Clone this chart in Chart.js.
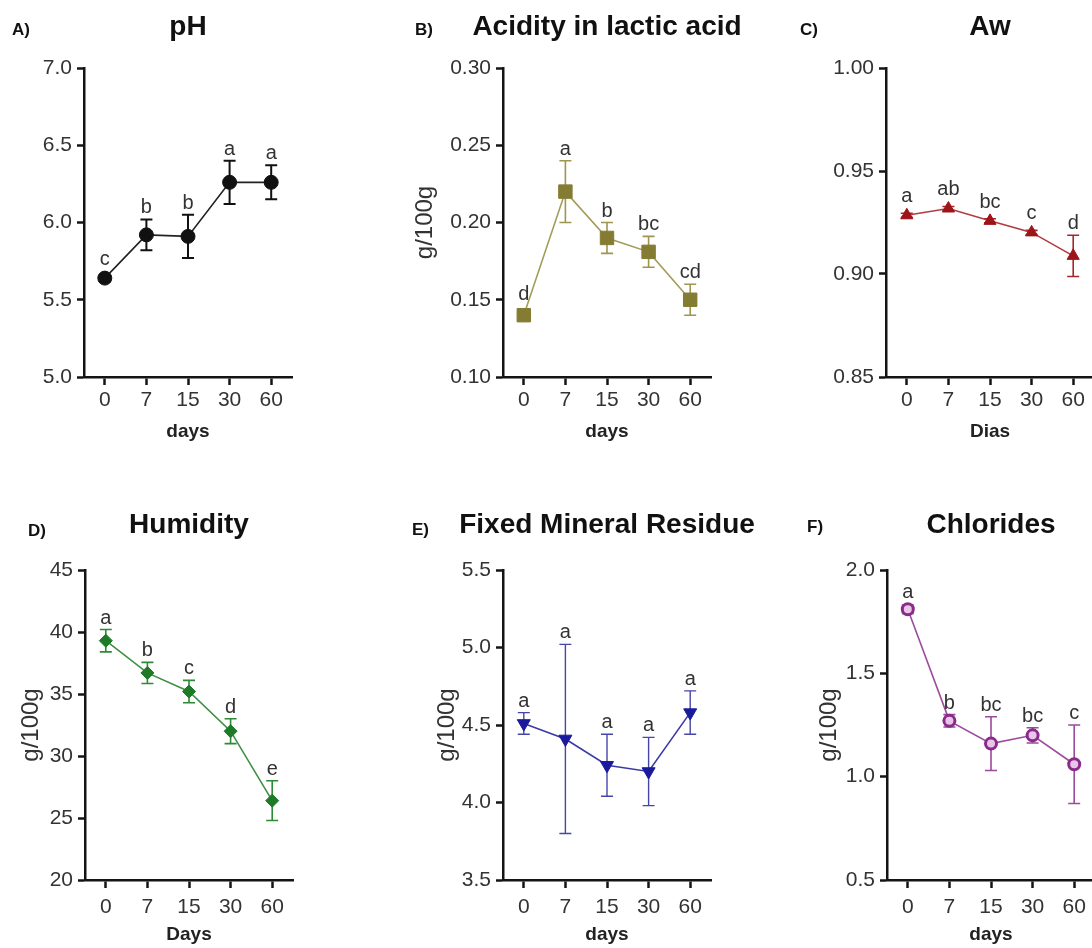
<!DOCTYPE html>
<html>
<head>
<meta charset="utf-8">
<title>Physicochemical parameters during ripening</title>
<script src="https://cdn.jsdelivr.net/npm/chart.js@4.4.1/dist/chart.umd.min.js"></script>
<style>
  html, body { margin: 0; padding: 0; background: #fff; }
  #fig { position: relative; width: 1092px; height: 948px; overflow: hidden; }
  #fig canvas { position: absolute; }
</style>
</head>
<body>
<div id="fig">
  <canvas id="chartA"></canvas>
  <canvas id="chartB"></canvas>
  <canvas id="chartC"></canvas>
  <canvas id="chartD"></canvas>
  <canvas id="chartE"></canvas>
  <canvas id="chartF"></canvas>
</div>
<script>
const days = ['0', '7', '15', '30', '60'];

// A) pH
const phMean = [5.64, 5.92, 5.91, 6.26, 6.26];
const phSd = [0.02, 0.10, 0.14, 0.14, 0.11];
const phLetters = ['c', 'b', 'b', 'a', 'a'];
const phTicks = ['5.0', '5.5', '6.0', '6.5', '7.0'];

// B) acidity in lactic acid
const acidMean = [0.140, 0.220, 0.190, 0.181, 0.150];
const acidSd = [0.002, 0.020, 0.010, 0.010, 0.010];
const acidLetters = ['d', 'a', 'b', 'bc', 'cd'];
const acidTicks = ['0.10', '0.15', '0.20', '0.25', '0.30'];

// C) Aw
const awMean = [0.9285, 0.9318, 0.9258, 0.9202, 0.9088];
const awSd = [0.001, 0.001, 0.001, 0.001, 0.010];
const awLetters = ['a', 'ab', 'bc', 'c', 'd'];
const awTicks = ['0.85', '0.90', '0.95', '1.00'];

// D) humidity
const humMean = [39.3, 36.7, 35.2, 32.0, 26.4];
const humSd = [0.9, 0.85, 0.9, 1.0, 1.6];
const humLetters = ['a', 'b', 'c', 'd', 'e'];
const humTicks = ['20', '25', '30', '35', '40', '45'];

// E) fixed mineral residue
const fmrMean = [4.51, 4.41, 4.24, 4.20, 4.58];
const fmrSd = [0.07, 0.61, 0.20, 0.22, 0.14];
const fmrLetters = ['a', 'a', 'a', 'a', 'a'];
const fmrTicks = ['3.5', '4.0', '4.5', '5.0', '5.5'];

// F) chlorides
const clMean = [1.81, 1.27, 1.16, 1.20, 1.06];
const clSd = [0.02, 0.03, 0.13, 0.037, 0.19];
const clLetters = ['a', 'b', 'bc', 'bc', 'c'];
const clTicks = ['0.5', '1.0', '1.5', '2.0'];

const FONT = '"Liberation Sans", Arial, Helvetica, sans-serif';
const AXIS = '#141414';
const TEXT = '#333';

// two rows of panels, positions relative to each canvas
const rows = [
  { top: 0, height: 443, plotTop: 68, xScaleH: 66, titleY: 27, tickPad: 3 },
  { top: 500, height: 446, plotTop: 70, xScaleH: 66, titleY: 25, tickPad: 7 }
];

const panels = [
  { id: 'chartA', row: 0, left: 0, yWidth: 84, letter: 'A)', letterX: 12, letterY: 30,
    title: 'pH', yTitle: '', xTitle: 'days',
    mean: phMean, sd: phSd, letters: phLetters, ticks: phTicks,
    color: '#111', lineColor: '#222', barColor: '#111', barWidth: 2,
    pointStyle: 'circle', radius: 7, rotation: 0 },
  { id: 'chartB', row: 0, left: 400, yWidth: 103, letter: 'B)', letterX: 15, letterY: 30,
    title: 'Acidity in lactic acid', yTitle: 'g/100g', yTitleX: 425, xTitle: 'days',
    mean: acidMean, sd: acidSd, letters: acidLetters, ticks: acidTicks,
    color: '#857c33', lineColor: '#a39c5a', barColor: '#9d9550', barWidth: 1.6,
    pointStyle: 'rect', radius: 9.5, rotation: 0 },
  { id: 'chartC', row: 0, left: 790, yWidth: 96, letter: 'C)', letterX: 10, letterY: 30,
    title: 'Aw', yTitle: '', xTitle: 'Dias',
    mean: awMean, sd: awSd, letters: awLetters, ticks: awTicks,
    color: '#9e1519', lineColor: '#b23a40', barColor: '#a8262c', barWidth: 1.6,
    pointStyle: 'triangle', radius: 7, rotation: 0 },
  { id: 'chartD', row: 1, left: 0, yWidth: 85, letter: 'D)', letterX: 28, letterY: 31,
    title: 'Humidity', yTitle: 'g/100g', yTitleX: 31, xTitle: 'Days',
    mean: humMean, sd: humSd, letters: humLetters, ticks: humTicks,
    color: '#1d7a27', lineColor: '#3f8f45', barColor: '#2f8a37', barWidth: 1.6,
    pointStyle: 'rectRot', radius: 6.5, rotation: 0 },
  { id: 'chartE', row: 1, left: 400, yWidth: 103, letter: 'E)', letterX: 12, letterY: 30,
    title: 'Fixed Mineral Residue', yTitle: 'g/100g', yTitleX: 447, xTitle: 'days',
    mean: fmrMean, sd: fmrSd, letters: fmrLetters, ticks: fmrTicks,
    color: '#1a1a9c', lineColor: '#3a3aa6', barColor: '#4646a8', barWidth: 1.4,
    pointStyle: 'triangle', radius: 7.5, rotation: 180 },
  { id: 'chartF', row: 1, left: 790, yWidth: 97, letter: 'F)', letterX: 17, letterY: 27,
    title: 'Chlorides', yTitle: 'g/100g', yTitleX: 829, xTitle: 'days',
    mean: clMean, sd: clSd, letters: clLetters, ticks: clTicks,
    color: '#8a2a8a', lineColor: '#9c4c9c', barColor: '#9a4a9a', barWidth: 1.6,
    pointStyle: 'circle', radius: 5.5, rotation: 0, hollow: '#e8c6e8' }
];

const PLOT_W = 208;
const PAD_RIGHT = 60; // room for the wide panel titles

// error bars, significance letters, panel letter and title
const annotate = {
  id: 'annotate',
  beforeDatasetsDraw(chart) {
    const { ctx, scales: { x, y } } = chart;
    const ds = chart.data.datasets[0];
    const p = ds.panel;
    ctx.save();
    ctx.strokeStyle = p.barColor;
    ctx.lineWidth = p.barWidth;
    ds.data.forEach((v, i) => {
      const px = x.getPixelForValue(i);
      const top = y.getPixelForValue(v + ds.sd[i]);
      const bot = y.getPixelForValue(v - ds.sd[i]);
      ctx.beginPath();
      ctx.moveTo(px, top); ctx.lineTo(px, bot);
      ctx.moveTo(px - 6, top); ctx.lineTo(px + 6, top);
      ctx.moveTo(px - 6, bot); ctx.lineTo(px + 6, bot);
      ctx.stroke();
    });
    ctx.restore();
  },
  afterDatasetsDraw(chart) {
    const { ctx, scales: { x, y } } = chart;
    const ds = chart.data.datasets[0];
    const p = ds.panel;
    ctx.save();
    ctx.fillStyle = TEXT;
    ctx.font = '20px ' + FONT;
    ctx.textAlign = 'center';
    ctx.textBaseline = 'alphabetic';
    ds.data.forEach((v, i) => {
      const px = x.getPixelForValue(i);
      const top = Math.min(y.getPixelForValue(v + ds.sd[i]), y.getPixelForValue(v) - p.radius);
      ctx.fillText(ds.letters[i], px, top - 6);
    });
    ctx.restore();
  },
  afterDraw(chart) {
    const { ctx, chartArea } = chart;
    const p = chart.data.datasets[0].panel;
    const r = rows[p.row];
    ctx.save();
    ctx.fillStyle = '#111';
    ctx.textBaseline = 'middle';
    ctx.textAlign = 'left';
    ctx.font = 'bold 17px ' + FONT;
    ctx.fillText(p.letter, p.letterX, p.letterY);
    ctx.textAlign = 'center';
    ctx.font = 'bold 28px ' + FONT;
    ctx.fillText(p.title, (chartArea.left + chartArea.right) / 2, r.titleY);
    ctx.restore();
  }
};

function makePanel(p) {
  const r = rows[p.row];
  const canvas = document.getElementById(p.id);
  const width = p.yWidth + PLOT_W + PAD_RIGHT;
  canvas.width = width;
  canvas.height = r.height;
  canvas.style.left = p.left + 'px';
  canvas.style.top = r.top + 'px';

  const tickFont = { family: FONT, size: 21 };
  const yTitleSize = 24;
  const yTitlePad = p.yTitle ? p.yTitleX - p.left - yTitleSize * 1.2 / 2 : 0;

  return new Chart(canvas.getContext('2d'), {
    type: 'line',
    data: {
      labels: days,
      datasets: [{
        data: p.mean,
        sd: p.sd,
        letters: p.letters,
        panel: p,
        borderColor: p.lineColor,
        borderWidth: 1.6,
        tension: 0,
        pointStyle: p.pointStyle,
        pointRadius: p.radius,
        pointRotation: p.rotation,
        pointBackgroundColor: p.hollow || p.color,
        pointBorderColor: p.color,
        pointBorderWidth: p.hollow ? 3 : 1,
        clip: false
      }]
    },
    options: {
      responsive: false,
      animation: false,
      devicePixelRatio: 1,
      layout: { padding: { top: r.plotTop, right: PAD_RIGHT, bottom: 0, left: 0 } },
      plugins: {
        legend: { display: false },
        tooltip: { enabled: false }
      },
      scales: {
        x: {
          type: 'category',
          offset: true,
          grid: { display: true, offset: false, drawOnChartArea: false, drawTicks: true,
                  tickLength: 8, tickWidth: 2.5, tickColor: AXIS },
          border: { display: true, color: AXIS, width: 2.5 },
          ticks: { font: tickFont, color: TEXT, padding: r.tickPad, maxRotation: 0, autoSkip: false },
          title: { display: true, text: p.xTitle, color: '#222',
                   font: { family: FONT, size: 19, weight: 'bold' }, padding: 0 },
          afterFit: s => { s.height = r.xScaleH; }
        },
        y: {
          min: Number(p.ticks[0]),
          max: Number(p.ticks[p.ticks.length - 1]),
          afterBuildTicks: s => { s.ticks = p.ticks.map(t => ({ value: Number(t) })); },
          grid: { display: true, drawOnChartArea: false, drawTicks: true,
                  tickLength: 7, tickWidth: 2.5, tickColor: AXIS },
          border: { display: true, color: AXIS, width: 2.5 },
          ticks: { font: tickFont, color: TEXT, padding: 5, callback: (v, i) => p.ticks[i] },
          title: { display: !!p.yTitle, text: p.yTitle, color: TEXT,
                   font: { family: FONT, size: yTitleSize }, padding: { top: yTitlePad, bottom: 0 } },
          afterFit: s => { s.width = p.yWidth; }
        }
      }
    },
    plugins: [annotate]
  });
}

panels.forEach(makePanel);
</script>
</body>
</html>
